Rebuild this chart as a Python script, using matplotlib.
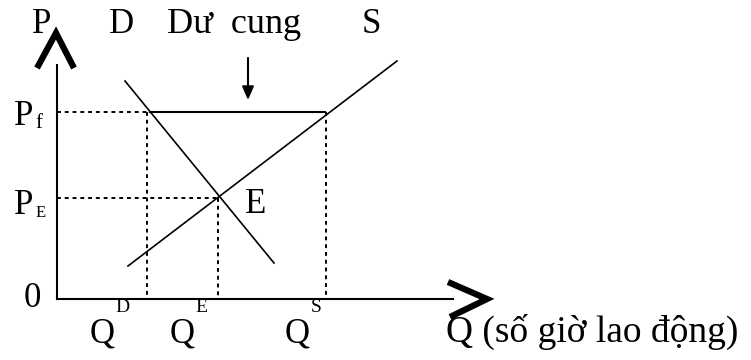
import matplotlib
matplotlib.use("Agg")
import matplotlib.pyplot as plt

plt.rcParams['font.family'] = ['Liberation Serif', 'DejaVu Serif']

# ============================================================
# Diagram values (origin = 0, units roughly pixels)
# ============================================================
p_floor = 187          # Pf
p_eq = 101             # PE
q_demand = 90          # Q^D at Pf
q_eq = 161             # Q^E
q_supply = 269         # Q^S at Pf

demand_q = [68, 217]
demand_p = [218, 36]
supply_q = [71, 340]
supply_p = [33, 238]

y_axis_top = 234
x_axis_end = 396

fig = plt.figure(figsize=(7.51, 3.6), dpi=100)
ax = fig.add_axes([0, 0, 1, 1])
ax.set_xlim(-57, 694)
ax.set_ylim(-61, 299)
ax.axis("off")

# axes
ax.plot([0, 0], [0, y_axis_top], color="black", lw=1.5)
ax.plot([0, x_axis_end], [0, 0], color="black", lw=1.5)
# open chevron arrow heads
ax.plot([-20, -1, 17], [231, 266, 231], color="black", lw=4.5,
        solid_joinstyle="miter", solid_capstyle="butt")
ax.plot([391, 430, 393], [17, 0, -18], color="black", lw=4.5,
        solid_joinstyle="miter", solid_capstyle="butt")

# demand and supply
ax.plot(demand_q, demand_p, color="black", lw=1.2)
ax.plot(supply_q, supply_p, color="black", lw=1.2)

# price floor line (surplus)
ax.plot([q_demand + 3, q_supply - 1], [p_floor, p_floor], color="black", lw=1.5)

# dotted guides
dot = dict(color="black", lw=1.4, linestyle=(0, (2, 2)))
ax.plot([0, q_demand], [p_floor, p_floor], **dot)
ax.plot([0, q_eq], [p_eq, p_eq], **dot)
ax.plot([q_demand, q_demand], [p_floor, 1], **dot)
ax.plot([q_eq, q_eq], [p_eq, 1], **dot)
ax.plot([q_supply, q_supply], [p_floor, 1], **dot)

# "Dư cung" arrow
ax.annotate("", xy=(191, 199), xytext=(191, 241),
            arrowprops=dict(arrowstyle="-|>,head_width=0.35,head_length=0.8",
                            color="black", lw=1.5, shrinkA=0, shrinkB=0))

big = 25
wide = 26
small = 14
ax.text(-15, 266, "P", fontsize=big, ha="center", va="baseline")
ax.text(65, 266, "D", fontsize=big, ha="center", va="baseline")
ax.text(177, 266, "Dư  cung", fontsize=wide, ha="center", va="baseline")
ax.text(314, 266, "S", fontsize=big, ha="center", va="baseline")

ax.text(-43, 174, "P", fontsize=big, ha="left", va="baseline")
ax.text(-22, 171, "f", fontsize=15, ha="left", va="baseline")
ax.text(-43, 85, "P", fontsize=big, ha="left", va="baseline")
ax.text(-21, 82, "E", fontsize=12, ha="left", va="baseline")
ax.text(188, 86, "E", fontsize=big, ha="left", va="baseline")

ax.text(-25, -8, "0", fontsize=big, ha="center", va="baseline")
ax.text(65, -13, "D", fontsize=small, ha="center", va="baseline")
ax.text(144, -13, "E", fontsize=small, ha="center", va="baseline")
ax.text(259, -13, "S", fontsize=small, ha="center", va="baseline")
ax.text(45, -43, "Q", fontsize=big, ha="center", va="baseline")
ax.text(125, -43, "Q", fontsize=big, ha="center", va="baseline")
ax.text(240, -43, "Q", fontsize=big, ha="center", va="baseline")
ax.text(389, -43, "Q (số giờ lao động)", fontsize=27, ha="left", va="baseline")

fig.savefig("out.png", dpi=100)
